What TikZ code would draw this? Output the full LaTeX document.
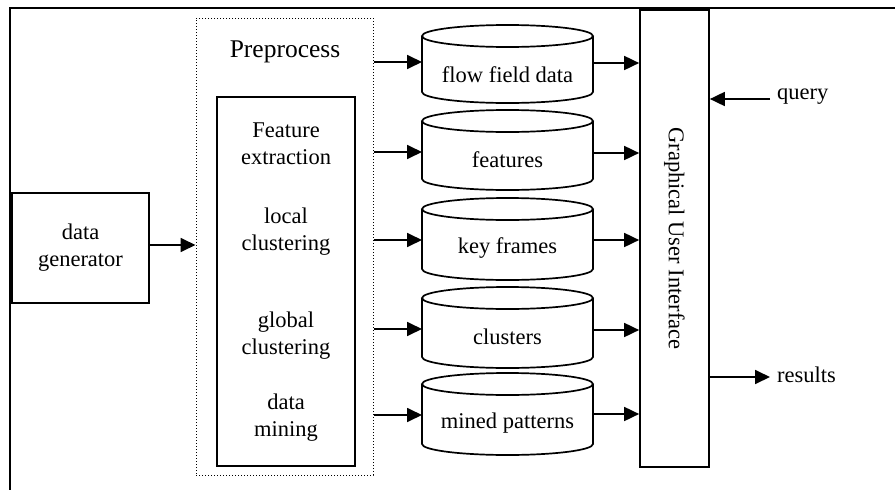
\documentclass[tikz,border=0pt]{standalone}
\usepackage{fontspec}
\setmainfont{Liberation Serif}
\usetikzlibrary{arrows.meta}
\tikzset{
  box/.style={draw, line width=1.7pt},
  lbl/.style={font=\fontsize{22.5}{27}\selectfont, align=center, inner sep=0pt},
  arr/.style={line width=1.8pt, -{Triangle[length=15pt,width=14pt]}},
  cylline/.style={line width=1.7pt},
}
\newcommand{\mycyl}[5]{% name, top, bottom, text y, text
  \draw[cylline] (507.5,#2+11) ellipse [x radius=85.5, y radius=11];
  \draw[cylline] (422,#2+11) -- (422,#3-11) arc[start angle=180, end angle=360, x radius=85.5, y radius=-11] -- (593,#2+11);
  \node[lbl, minimum width=171pt] (#1) at (507.5,#4) {#5};
}
\begin{document}
\begin{tikzpicture}[x=1pt,y=-1pt]
\useasboundingbox (0,0) rectangle (895,490);
% outer frame (top and left)
\coordinate (ftl) at (10,8);
\coordinate (ftr) at (895,8);
\coordinate (fbl) at (10,490);
\draw[line width=2pt] (ftr) -- (ftl) -- (fbl);
% data generator
\node[box, minimum width=137pt, minimum height=110pt, lbl] (gen) at (80.5,248) {data\\generator};
% dotted preprocess box
\node[draw, dotted, line width=1pt, minimum width=177pt, minimum height=457pt] (pre) at (284.5,246.5) {};
\node[lbl, font=\fontsize{25.5}{30}\selectfont] (pretitle) at (285,52) {Preprocess};
\node[box, minimum width=138pt, minimum height=369pt] (inner) at (286,281.5) {};
\node[lbl] (fe) at (286,143.5) {Feature\\extraction};
\node[lbl] (lc) at (286,231.5) {local\\clustering};
\node[lbl] (gc) at (286,336) {global\\clustering};
\node[lbl] (dm) at (286,418) {data\\mining};
% cylinders
\mycyl{c1}{25}{103}{75}{flow field data}
\mycyl{c2}{110}{190}{160}{features}
\mycyl{c3}{198}{280}{248}{key frames}
\mycyl{c4}{287}{368}{337}{clusters}
\mycyl{c5}{373}{455}{423}{mined patterns}
\coordinate (c1w) at (422,62);
\coordinate (c2w) at (422,152);
\coordinate (c3w) at (422,240);
\coordinate (c4w) at (422,329);
\coordinate (c5w) at (422,415);
% GUI
\node[box, minimum width=69pt, minimum height=457pt] (gui) at (674.5,238.5) {};
\node[lbl, rotate=-90] (guitext) at (674.5,238.5) {Graphical User Interface};
% arrows
\draw[arr] (gen.east |- 0,245) -- (pre.west |- 0,245);
\draw[arr] (pre.east |- c1w) -- (c1w);
\draw[arr] (pre.east |- c2w) -- (c2w);
\draw[arr] (pre.east |- c3w) -- (c3w);
\draw[arr] (pre.east |- c4w) -- (c4w);
\draw[arr] (pre.east |- c5w) -- (c5w);
\draw[arr] (593,63) -- (gui.west |- 0,63);
\draw[arr] (593,153) -- (gui.west |- 0,153);
\draw[arr] (593,240) -- (gui.west |- 0,240);
\draw[arr] (593,330) -- (gui.west |- 0,330);
\draw[arr] (593,414) -- (gui.west |- 0,414);
\node[lbl, anchor=west] (query) at (777,97) {query};
\node[lbl, anchor=west] (results) at (777,375) {results};
\coordinate (qs) at (770,99);
\coordinate (re) at (770,377);
\draw[arr] (qs) -- (gui.east |- qs);
\draw[arr] (gui.east |- re) -- (re);
\end{tikzpicture}
\end{document}
